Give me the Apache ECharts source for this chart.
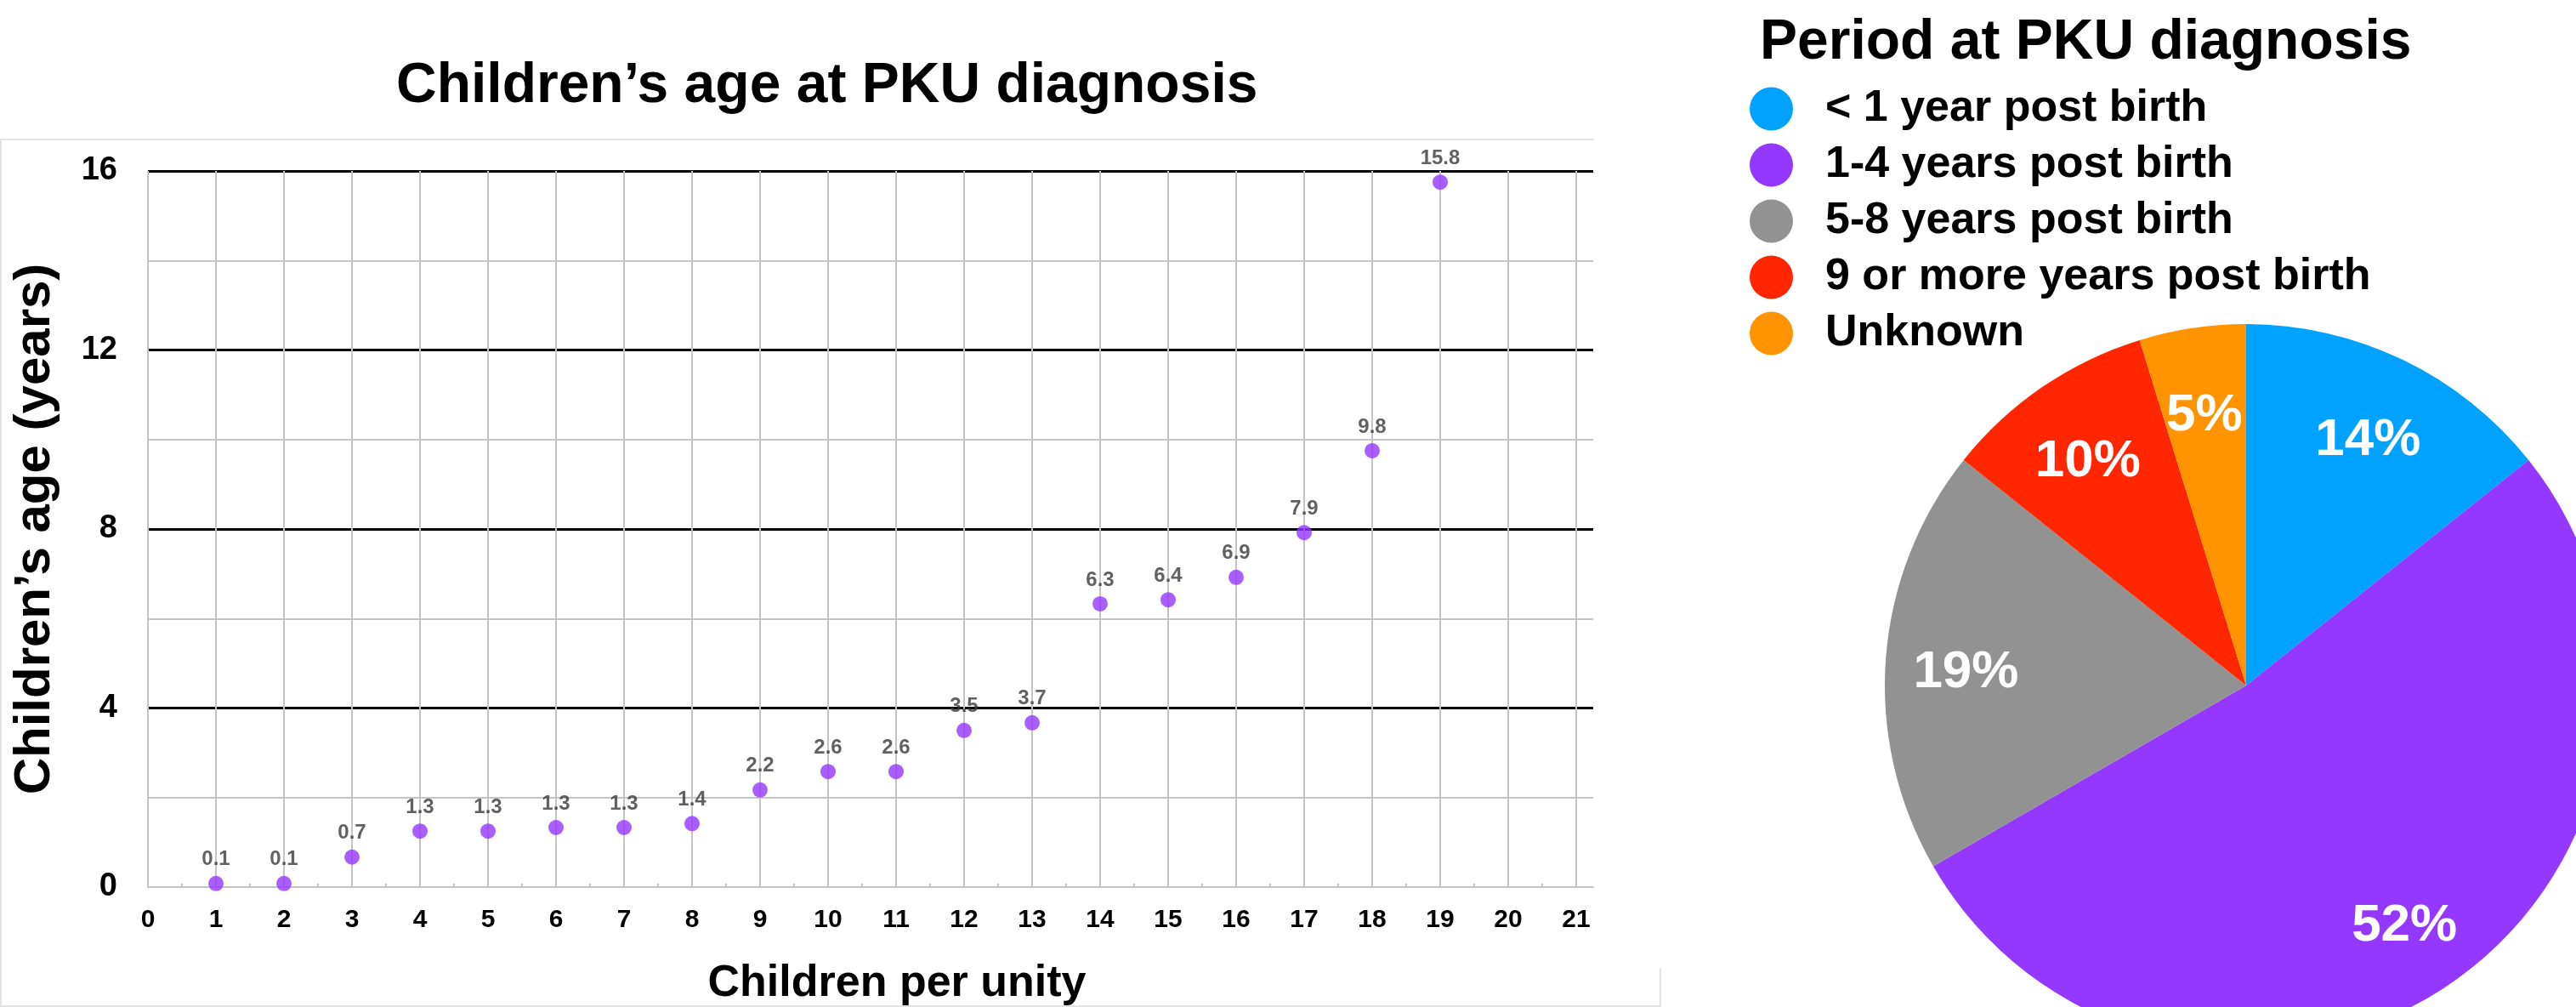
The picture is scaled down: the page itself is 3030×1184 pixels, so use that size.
<!DOCTYPE html>
<html lang="en">
<head>
<meta charset="utf-8">
<title>Children's age at PKU diagnosis</title>
<script src="https://cdn.jsdelivr.net/npm/echarts@6/dist/echarts.min.js"></script>
<style>
  html, body { margin: 0; padding: 0; background: #fff; }
  #main { width: 3030px; height: 1184px; }
</style>
</head>
<body>
<div id="main"></div>
<script>
// scatter: one point per child, age at diagnosis in years
var children = [1, 2, 3, 4, 5, 6, 7, 8, 9, 10, 11, 12, 13, 14, 15, 16, 17, 18, 19];
var ageYears = [0.08, 0.08, 0.67, 1.25, 1.25, 1.33, 1.33, 1.42, 2.17, 2.58, 2.58, 3.5, 3.67, 6.33, 6.42, 6.92, 7.92, 9.75, 15.75];

// pie: period at diagnosis (counts)
var periodNames = ['< 1 year post birth', '1-4 years post birth', '5-8 years post birth', '9 or more years post birth', 'Unknown'];
var periodCounts = [3, 11, 4, 2, 1];
var periodColors = ['#00A2FF', '#9437FF', '#929292', '#FF2600', '#FF9300'];

var font = '"Liberation Sans", Arial, Helvetica, sans-serif';
var gridGray = '#c4c4c4';

var points = children.map(function (c, i) { return [c, ageYears[i]]; });
var periodData = periodNames.map(function (n, i) { return { name: n, value: periodCounts[i] }; });

var chart = echarts.init(document.getElementById('main'));
var option = {
  animation: false,
  color: periodColors,
  textStyle: { fontFamily: font },
  title: [
    {
      text: 'Children’s age at PKU diagnosis',
      left: 461, top: 64,
      textStyle: { fontFamily: font, fontSize: 66, fontWeight: 'bold', color: '#000' }
    },
    {
      text: 'Period at PKU diagnosis',
      left: 2065, top: 13,
      textStyle: { fontFamily: font, fontSize: 66, fontWeight: 'bold', color: '#000' }
    }
  ],
  legend: {
    orient: 'vertical',
    left: 2058, top: 102, padding: 0,
    icon: 'circle',
    itemWidth: 51, itemHeight: 51, itemGap: 14,
    selectedMode: false,
    data: periodNames,
    textStyle: { fontFamily: font, fontSize: 52, fontWeight: 'bold', color: '#000', lineHeight: 51, padding: [0, 0, 0, 33] }
  },
  grid: { left: 174, right: 1156, top: 201, bottom: 141, outerBoundsMode: 'none' },
  xAxis: {
    type: 'value', min: 0, max: 21.25, interval: 1,
    axisLine: { show: true, onZero: false, lineStyle: { color: gridGray, width: 2 } },
    axisTick: { show: false, inside: true },
    minorTick: { show: true, splitNumber: 2, length: 4, lineStyle: { color: gridGray, width: 2 } },
    axisLabel: {
      fontFamily: font, fontSize: 30, fontWeight: 'bold', color: '#000', margin: 24,
      formatter: function (v) { return Number.isInteger(v) ? String(v) : ''; }
    },
    splitLine: { show: true, showMaxLine: false, lineStyle: { color: gridGray, width: 2 } },
    name: 'Children per unity', nameLocation: 'middle', nameGap: 88,
    nameTextStyle: { fontFamily: font, fontSize: 52, fontWeight: 'bold', color: '#000', padding: [0, 0, 0, 62] }
  },
  yAxis: {
    type: 'value', min: 0, max: 16, interval: 4,
    axisLine: { show: false },
    axisTick: { show: false },
    axisLabel: { fontFamily: font, fontSize: 38, fontWeight: 'bold', color: '#000', margin: 36 },
    splitLine: { show: true, showMinLine: false, lineStyle: { color: '#000', width: 3 } },
    minorTick: { show: false, splitNumber: 2 },
    minorSplitLine: { show: true, lineStyle: { color: gridGray, width: 2 } },
    name: 'Children’s age (years)', nameLocation: 'middle', nameGap: 103, nameRotate: 90,
    nameTextStyle: { fontFamily: font, fontSize: 60, fontWeight: 'bold', color: '#000' }
  },
  graphic: [{
    type: 'polyline', silent: true, z: -10,
    shape: { points: [[1875, 164], [1, 164], [1, 1183], [1953, 1183], [1953, 1138]] },
    style: { stroke: '#e2e2e2', lineWidth: 2, fill: null }
  }],
  series: [
    {
      type: 'scatter',
      data: points,
      symbolSize: 18,
      itemStyle: { color: '#9437FF' },
      z: 5,
      label: {
        show: true, position: 'top', distance: 7,
        fontFamily: font, fontSize: 24, fontWeight: 'bold', color: '#3a3a3a',
        formatter: function (p) { return p.value[1].toFixed(1); }
      }
    },
    {
      type: 'pie',
      center: [2642, 806], radius: 425,
      startAngle: 90, clockwise: true,
      percentPrecision: 0,
      data: periodData,
      label: { show: false }, labelLine: { show: false },
      emphasis: { disabled: true }
    },
    {
      // transparent ring only used to place the percentage labels further out
      type: 'pie', silent: true,
      center: [2642, 806], radius: [230, 425],
      startAngle: 90, clockwise: true,
      percentPrecision: 0,
      data: periodData,
      itemStyle: { color: 'rgba(0,0,0,0)' },
      label: {
        show: true, position: 'inside', formatter: '{d}%',
        fontFamily: font, fontSize: 62, fontWeight: 'bold', color: '#fff',
        offset: [0, 10]
      },
      labelLine: { show: false }
    }
  ]
};
chart.setOption(option);
</script>
</body>
</html>
